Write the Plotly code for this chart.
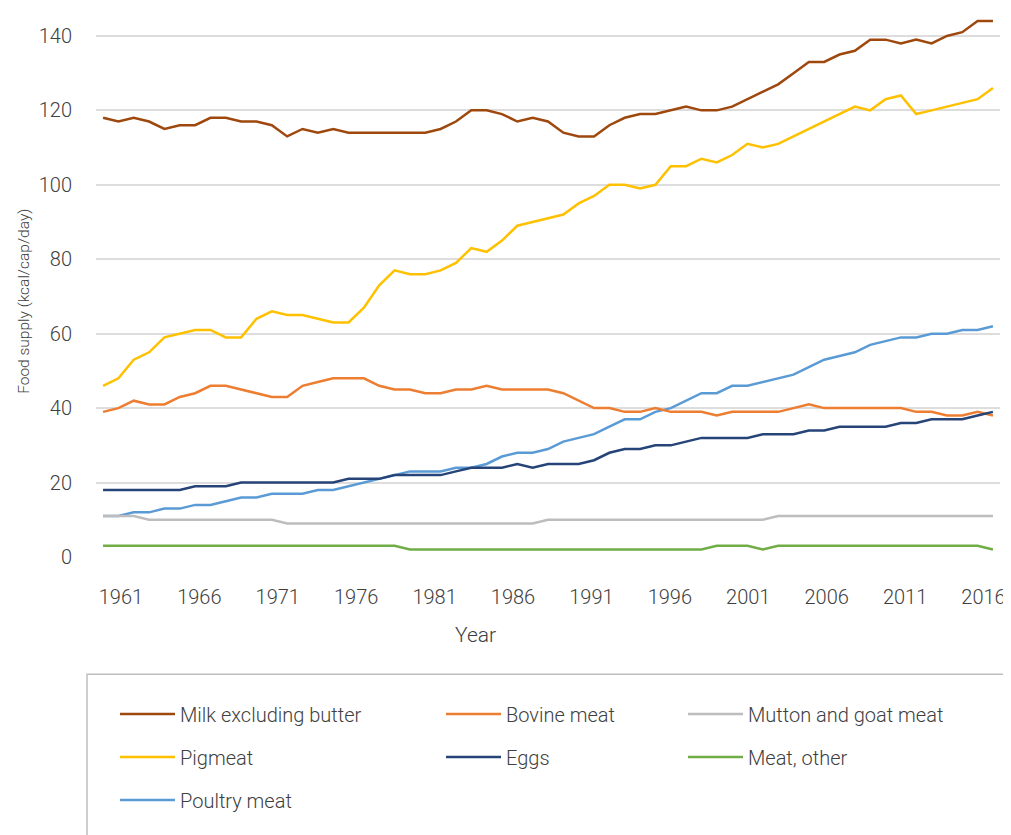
import plotly.graph_objects as go

years = list(range(1961, 2020))

milk = [118, 117, 118, 117, 115, 116, 116, 118, 118, 117, 117, 116, 113, 115, 114, 115, 114, 114, 114, 114,
        114, 114, 115, 117, 120, 120, 119, 117, 118, 117, 114, 113, 113, 116, 118, 119, 119, 120, 121,
        120, 120, 121, 123, 125, 127, 130, 133, 133, 135, 136, 139, 139, 138, 139, 138, 140, 141, 144, 144]
pigmeat = [46, 48, 53, 55, 59, 60, 61, 61, 59, 59, 64, 66, 65, 65, 64, 63, 63,
           67, 73, 77, 76, 76, 77, 79, 83, 82, 85, 89, 90, 91, 92, 95, 97, 100, 100, 99, 100, 105,
           105, 107, 106, 108, 111, 110, 111, 113, 115, 117, 119, 121, 120, 123, 124, 119, 120, 121, 122, 123, 126]
poultry = [11, 11, 12, 12, 13, 13, 14, 14, 15, 16, 16, 17, 17, 17, 18, 18, 19, 20, 21, 22,
           23, 23, 23, 24, 24, 25, 27, 28, 28, 29, 31, 32, 33, 35, 37, 37, 39, 40, 42,
           44, 44, 46, 46, 47, 48, 49, 51, 53, 54, 55, 57, 58, 59, 59, 60, 60, 61, 61, 62]
bovine = [39, 40, 42, 41, 41, 43, 44, 46, 46, 45, 44, 43, 43, 46, 47, 48, 48, 48, 46, 45,
          45, 44, 44, 45, 45, 46, 45, 45, 45, 45, 44, 42, 40, 40, 39, 39, 40, 39, 39,
          39, 38, 39, 39, 39, 39, 40, 41, 40, 40, 40, 40, 40, 40, 39, 39, 38, 38, 39, 38]
eggs = [18, 18, 18, 18, 18, 18, 19, 19, 19, 20, 20, 20, 20, 20, 20, 20, 21, 21, 21, 22,
        22, 22, 22, 23, 24, 24, 24, 25, 24, 25, 25, 25, 26, 28, 29, 29, 30, 30, 31,
        32, 32, 32, 32, 33, 33, 33, 34, 34, 35, 35, 35, 35, 36, 36, 37, 37, 37, 38, 39]
mutton = [11, 11, 11, 10, 10, 10, 10, 10, 10, 10, 10, 10, 9, 9, 9, 9, 9, 9, 9, 9,
          9, 9, 9, 9, 9, 9, 9, 9, 9, 10, 10, 10, 10, 10, 10, 10, 10, 10, 10,
          10, 10, 10, 10, 10, 11, 11, 11, 11, 11, 11, 11, 11, 11, 11, 11, 11, 11, 11, 11]
meat_other = [3, 3, 3, 3, 3, 3, 3, 3, 3, 3, 3, 3, 3, 3, 3, 3, 3, 3, 3, 3,
              2, 2, 2, 2, 2, 2, 2, 2, 2, 2, 2, 2, 2, 2, 2, 2, 2, 2, 2,
              2, 3, 3, 3, 2, 3, 3, 3, 3, 3, 3, 3, 3, 3, 3, 3, 3, 3, 3, 2]

tick_years = [1961, 1966, 1971, 1976, 1981, 1986, 1991, 1996, 2001, 2006, 2011, 2016]

# name, values, colour, legend column
series = [
    ("Milk excluding butter", milk, "#9E480E", "legend"),
    ("Pigmeat", pigmeat, "#FFC000", "legend"),
    ("Poultry meat", poultry, "#5B9BD5", "legend"),
    ("Bovine meat", bovine, "#ED7D31", "legend2"),
    ("Eggs", eggs, "#264478", "legend2"),
    ("Mutton and goat meat", mutton, "#BDBDBD", "legend3"),
    ("Meat, other", meat_other, "#70AD47", "legend3"),
]

fig = go.Figure()
for name, vals, col, leg in series:
    fig.add_trace(go.Scatter(x=years, y=vals, name=name, mode="lines",
                             line=dict(color=col, width=2.5),
                             legend=leg, legendgroup=name))

# the year labels of the original sit on their own spacing, so they get their own axis
fig.add_trace(go.Scatter(x=[], y=[], xaxis="x2", showlegend=False, hoverinfo="skip"))

font_main = "Roboto"
txt = "#404040"

# page is drawn with an 8px body margin, positions below are page pixels
PX0, PX1 = 96, 1000      # plot area left/right
PY0, PY1 = 8, 557.3      # plot area top/bottom


def px(x):
    return (x - PX0) / (PX1 - PX0)


def py(y):
    return (PY1 - y) / (PY1 - PY0)


leg_common = dict(xanchor="left", yanchor="top", orientation="v",
                  bgcolor="rgba(0,0,0,0)", tracegroupgap=14, itemwidth=55,
                  font=dict(family=font_main, size=20, color=txt, weight=300))
leg_top = py(695)

fig.update_layout(
    width=1011, height=835,
    margin=dict(l=PX0 - 8, r=1011 - (PX1 - 8), t=0, b=835 - (PY1 - 8)),
    plot_bgcolor="white", paper_bgcolor="white",
    font=dict(family=font_main, color=txt),
    xaxis=dict(range=[1960.54, 2019.46], showgrid=False, zeroline=False,
               showticklabels=False, showline=False),
    xaxis2=dict(range=[1959.41, 2017.05], overlaying="x", side="bottom", anchor="y",
                tickvals=tick_years, showgrid=False, zeroline=False, showline=False,
                ticklabelstandoff=26, tickfont=dict(size=20, color=txt, weight=300)),
    yaxis=dict(range=[0, 147.5], dtick=20, showgrid=True, gridcolor="#DDDDDD", gridwidth=1.5,
               zeroline=False, showline=False, ticklabelstandoff=23,
               tickfont=dict(size=20, color=txt, weight=300)),
    legend=dict(x=px(115), y=leg_top, **leg_common),
    legend2=dict(x=px(441), y=leg_top, **leg_common),
    legend3=dict(x=px(683), y=leg_top, **leg_common),
    showlegend=True,
)

fig.add_annotation(text="Food supply (kcal/cap/day)", textangle=-90, xref="paper", yref="paper",
                   x=px(24), y=py(302), xanchor="center", yanchor="middle", showarrow=False,
                   font=dict(size=15.5, color=txt, weight=300))
fig.add_annotation(text="Year", xref="paper", yref="paper",
                   x=px(475), y=py(635), xanchor="center", yanchor="middle", showarrow=False,
                   font=dict(size=21, color=txt, weight=300))

# legend frame, running off the right and bottom edges like the original
fig.add_shape(type="rect", xref="paper", yref="paper",
              x0=px(87), x1=px(1040), y0=py(674.5), y1=py(900),
              line=dict(color="#BFBFBF", width=1.5), fillcolor="rgba(0,0,0,0)")

fig.write_html("out.html")
